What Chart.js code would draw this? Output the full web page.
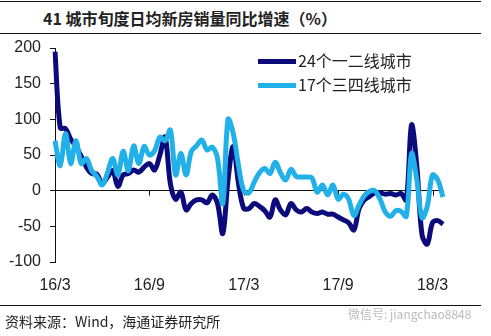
<!DOCTYPE html>
<html>
<head>
<meta charset="utf-8">
<script src="https://cdn.jsdelivr.net/npm/chart.js@4"></script>
<style>
  html, body { margin: 0; padding: 0; background: #fff; }
  #wrap { position: relative; width: 491px; height: 336px; overflow: hidden; font-family: "Liberation Sans", Arial, sans-serif; }
  #chart { position: absolute; left: 0; top: 0; }
  .rule { position: absolute; left: 0; width: 481px; height: 0; border-top: 1.5px solid #111; }
  #title { position: absolute; left: 43px; top: 6px; font: bold 16px "Noto Sans CJK SC", "Liberation Sans", sans-serif; color: #222; white-space: nowrap; }
  #source { position: absolute; left: 5px; top: 311px; font: 14px "Noto Sans CJK SC", sans-serif; color: #222; white-space: nowrap; }
  #wm { position: absolute; left: 348px; top: 305px; font: 12px "Noto Sans CJK SC", sans-serif; color: #bbb; white-space: nowrap; }
  .leg { position: absolute; left: 258px; font: 16px "Noto Sans CJK SC", sans-serif; color: #222; white-space: nowrap; }
  .leg span.sw { display: inline-block; width: 38px; height: 5px; vertical-align: middle; margin-right: 2px; position: relative; top: -1px; }
</style>
</head>
<body>
<div id="wrap">
  <div class="rule" style="top:1px"></div>
  <div id="title">41 城市旬度日均新房销量同比增速（%）</div>
  <div class="rule" style="top:33px"></div>
  <canvas id="chart" width="491" height="336"></canvas>
  <div class="leg" style="top:48px"><span class="sw" style="background:#0b0b7c"></span>24个一二线城市</div>
  <div class="leg" style="top:72px"><span class="sw" style="background:#21b1e8"></span>17个三四线城市</div>
  <div class="rule" style="top:305px"></div>
  <div id="source">资料来源：Wind，海通证券研究所</div>
  <div id="wm">微信号: jiangchao8848</div>
</div>
<script>
const categories = [
  '16/3上','16/3中','16/3下','16/4上','16/4中','16/4下','16/5上','16/5中','16/5下',
  '16/6上','16/6中','16/6下','16/7上','16/7中','16/7下','16/8上','16/8中','16/8下',
  '16/9上','16/9中','16/9下','16/10上','16/10中','16/10下','16/11上','16/11中','16/11下',
  '16/12上','16/12中','16/12下','17/1上','17/1中','17/1下','17/2上','17/2中','17/2下',
  '17/3上','17/3中','17/3下','17/4上','17/4中','17/4下','17/5上','17/5中','17/5下',
  '17/6上','17/6中','17/6下','17/7上','17/7中','17/7下','17/8上','17/8中','17/8下',
  '17/9上','17/9中','17/9下','17/10上','17/10中','17/10下','17/11上','17/11中','17/11下',
  '17/12上','17/12中','17/12下','18/1上','18/1中','18/1下','18/2上','18/2中','18/2下',
  '18/3上','18/3中','18/3下'
];
const tickLabels = ['16/3','16/9','17/3','17/9','18/3'];
const seriesNames = ['24个一二线城市','17个三四线城市'];
const tier12 = [
  195,88,87,72,62,48,33,24,23,10,19,28,6,22,24,29,26,33,
  38,29,50,75,10,-12,-2,-27,-18,-13,-13,-17,-6,-18,-60,15,62,10,
  -25,-25,-18,-22,-28,-37,-13,-27,-34,-18,-27,-30,-25,-30,-32,-30,-33,-33,
  -37,-41,-45,-55,-25,-13,-8,-3,-3,-5,-4,-6,-4,-13,92,35,-62,-75,
  -45,-42,-47
];
const tier34 = [
  70,35,80,38,70,38,45,28,20,8,25,45,22,55,28,63,38,62,
  50,56,75,70,85,22,52,22,55,63,71,57,61,45,-18,100,80,35,
  0,-3,12,25,31,24,40,25,15,30,20,19,19,18,-2,8,-6,8,
  -12,-5,-12,-35,-20,-7,-1,0,-12,-30,-36,-28,-29,-36,52,15,-38,-22,
  22,15,-9
];
const yTicks = { min: -100, max: 200, step: 50 };

const zeroTicks = {
  id: 'zeroTicks',
  beforeDatasetsDraw(chart) {
    const x = chart.scales.x, y = chart.scales.y, ctx = chart.ctx;
    const y0 = y.getPixelForValue(0);
    ctx.save();
    ctx.strokeStyle = '#111';
    ctx.lineWidth = 1;
    x.ticks.forEach((t, i) => {
      if (t.label === null || t.label === undefined || t.label === '') return;
      const px = Math.round(x.getPixelForTick(i)) + 0.5;
      ctx.beginPath();
      ctx.moveTo(px, y0);
      ctx.lineTo(px, y0 + 5);
      ctx.stroke();
    });
    ctx.restore();
  }
};

new Chart(document.getElementById('chart'), {
  type: 'line',
  data: {
    labels: categories,
    datasets: [
      { label: seriesNames[0], data: tier12, borderColor: '#0b0b7c', borderWidth: 5, pointRadius: 0, tension: 0.35, order: 1, fill: false },
      { label: seriesNames[1], data: tier34, borderColor: '#21b1e8', borderWidth: 5, pointRadius: 0, tension: 0.35, order: 0, fill: false }
    ]
  },
  options: {
    responsive: false,
    animation: false,
    events: [],
    layout: { padding: { top: 48, right: 48, bottom: 0, left: 0 } },
    plugins: { legend: { display: false }, tooltip: { enabled: false } },
    scales: {
      x: {
        type: 'category',
        offset: false,
        border: { display: false },
        grid: { display: false, drawTicks: false },
        ticks: {
          autoSkip: false, maxRotation: 0, padding: 14,
          color: '#222', font: { family: '"Liberation Sans", Arial, sans-serif', size: 16 },
          callback: function(v, i) {
            const c = categories[i];
            if (c.endsWith('上')) {
              const m = c.slice(0, -1);
              if (tickLabels.includes(m)) return m;
            }
            return null;
          }
        },
        afterFit(s) { s.height = 74; }
      },
      y: {
        min: yTicks.min, max: yTicks.max,
        border: { display: true, color: '#111', width: 1 },
        grid: {
          color: c => (c.tick && c.tick.value === 0) ? '#111' : 'rgba(0,0,0,0)',
          tickColor: '#111', tickLength: 5, lineWidth: 1
        },
        ticks: {
          stepSize: yTicks.step, padding: 9, color: '#222',
          font: { family: '"Liberation Sans", Arial, sans-serif', size: 16 }
        },
        afterFit(s) { s.width = 55; }
      }
    }
  },
  plugins: [zeroTicks]
});
</script>
</body>
</html>
